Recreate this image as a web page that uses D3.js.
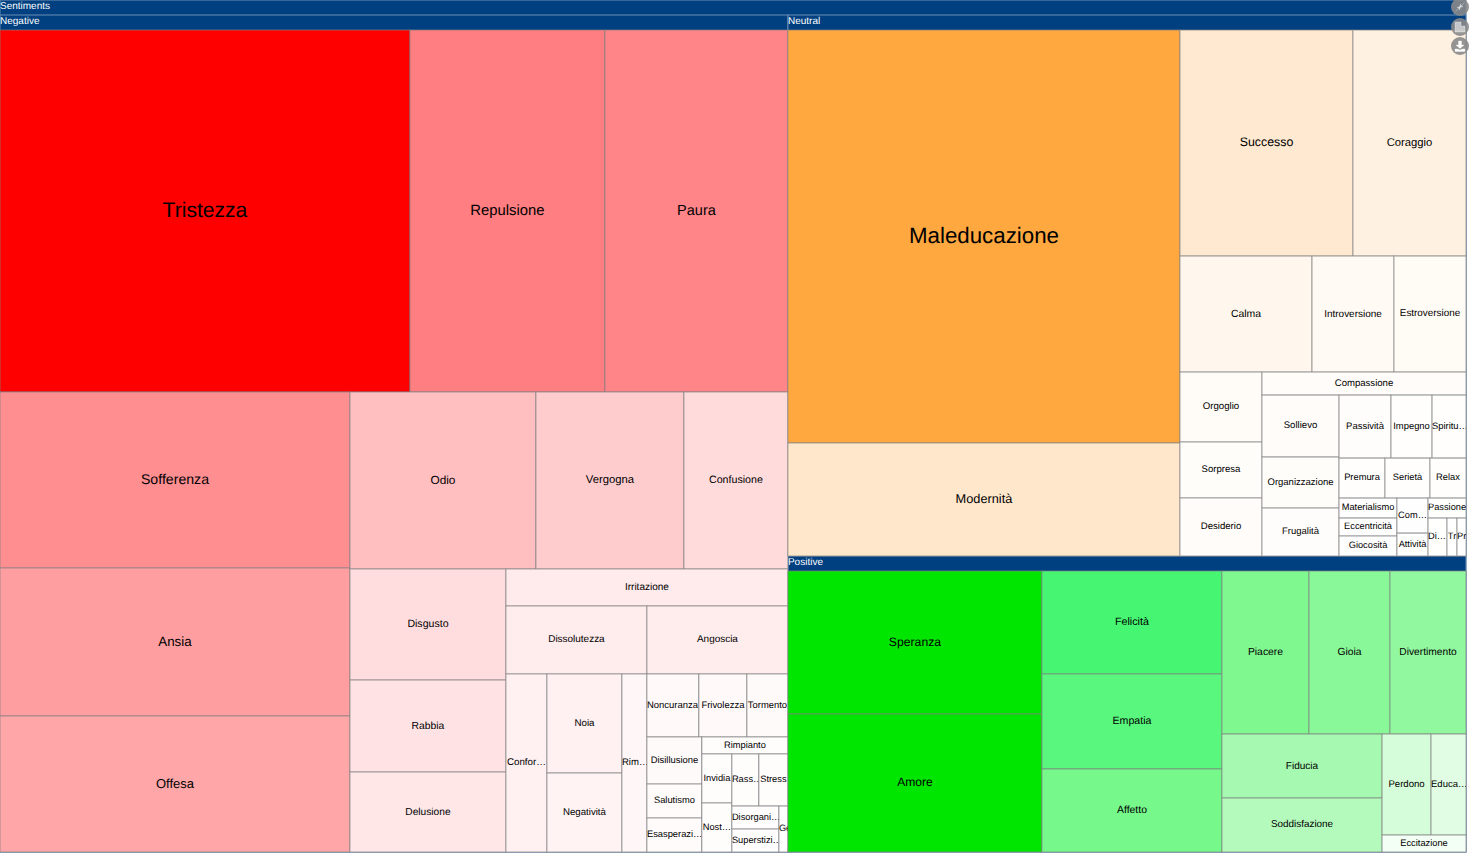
<!DOCTYPE html>
<html>
<head>
<meta charset="utf-8">
<script src="https://cdn.jsdelivr.net/npm/d3@7"></script>
<style>
  html, body { margin: 0; padding: 0; background: #fff; overflow: hidden; }
  svg { display: block; font-family: "Liberation Sans", Arial, sans-serif; text-rendering: geometricPrecision; }
</style>
</head>
<body>
<div id="chart"></div>
<script>
// leaf labels as they appear on the chart, and their estimated counts
var negativeNames = ["Tristezza", "Repulsione", "Paura", "Sofferenza", "Ansia", "Offesa", "Odio", "Vergogna", "Confusione",
  "Disgusto", "Rabbia", "Delusione", "Irritazione", "Dissolutezza", "Angoscia", "Confor…", "Noia", "Negatività", "Rim…",
  "Noncuranza", "Frivolezza", "Tormento", "Disillusione", "Salutismo", "Esasperazi…", "Rimpianto", "Invidia", "Nost…",
  "Rass…", "Stress", "Disorgani…", "Superstizi…", "Ge"];
var negativeValues = [15109, 7186, 6744, 6271, 5273, 4846, 3351, 2667, 1874,
  1763, 1461, 1270, 1062, 976, 976, 743, 756, 603, 453,
  333, 308, 263, 263, 190, 190, 149, 150, 150,
  143, 154, 110, 110, 42];

var neutralNames = ["Maleducazione", "Modernità", "Successo", "Coraggio", "Calma", "Introversione", "Estroversione",
  "Orgoglio", "Sorpresa", "Desiderio", "Compassione", "Sollievo", "Organizzazione", "Frugalità",
  "Passività", "Impegno", "Spiritu…", "Premura", "Serietà", "Relax",
  "Materialismo", "Eccentricità", "Giocosità", "Com…", "Attività", "Passione", "Di…", "Tr", "Pr."];
var neutralValues = [16651, 4556, 4021, 2627, 1575, 978, 859,
  590, 472, 489, 483, 491, 404, 380,
  337, 266, 220, 189, 185, 148,
  119, 107, 119, 112, 73, 78, 74, 39, 35];

var positiveNames = ["Speranza", "Amore", "Felicità", "Empatia", "Affetto", "Piacere", "Gioia", "Divertimento",
  "Fiducia", "Soddisfazione", "Perdono", "Educa…", "Eccitazione"];
var positiveValues = [3826, 3692, 1953, 1801, 1574, 1494, 1391, 1305, 1079, 910, 521, 372, 150];

// how each group is cut: "r" stacks its parts in rows, "c" puts them in columns
var negativeCuts = ["r",
  ["c", "Tristezza", "Repulsione", "Paura"],
  ["c",
    ["r", "Sofferenza", "Ansia", "Offesa"],
    ["r",
      ["c", "Odio", "Vergogna", "Confusione"],
      ["c",
        ["r", "Disgusto", "Rabbia", "Delusione"],
        ["r",
          "Irritazione",
          ["c", "Dissolutezza", "Angoscia"],
          ["c",
            "Confor…",
            ["r", "Noia", "Negatività"],
            "Rim…",
            ["r",
              ["c", "Noncuranza", "Frivolezza", "Tormento"],
              ["c",
                ["r", "Disillusione", "Salutismo", "Esasperazi…"],
                ["r",
                  "Rimpianto",
                  ["c",
                    ["r", "Invidia", "Nost…"],
                    ["r",
                      ["c", "Rass…", "Stress"],
                      ["c", ["r", "Disorgani…", "Superstizi…"], "Ge"]]]]]]]]]]]];

var neutralCuts = ["c",
  ["r", "Maleducazione", "Modernità"],
  ["r",
    ["c", "Successo", "Coraggio"],
    ["c", "Calma", "Introversione", "Estroversione"],
    ["c",
      ["r", "Orgoglio", "Sorpresa", "Desiderio"],
      ["r",
        "Compassione",
        ["c",
          ["r", "Sollievo", "Organizzazione", "Frugalità"],
          ["r",
            ["c", "Passività", "Impegno", "Spiritu…"],
            ["c", "Premura", "Serietà", "Relax"],
            ["c",
              ["r", "Materialismo", "Eccentricità", "Giocosità"],
              ["c",
                ["r", "Com…", "Attività"],
                ["r", "Passione", ["c", "Di…", "Tr", "Pr."]]]]]]]]]];

var positiveCuts = ["c",
  ["r", "Speranza", "Amore"],
  ["c",
    ["r", "Felicità", "Empatia", "Affetto"],
    ["r",
      ["c", "Piacere", "Gioia", "Divertimento"],
      ["c",
        ["r", "Fiducia", "Soddisfazione"],
        ["r", ["c", "Perdono", "Educa…"], "Eccitazione"]]]]];

var width = 1466, height = 852, headerHeight = 15;

var svg = d3.select("#chart").append("svg")
  .attr("width", 1471)
  .attr("height", 853);

// turn a cuts list into a node tree the hierarchy can read
function buildNode(cut, names, values, group) {
  if (typeof cut === "string") {
    return { name: cut, value: values[names.indexOf(cut)], group: group };
  }
  return {
    split: cut[0],
    children: cut.slice(1).map(function(c) { return buildNode(c, names, values, group); })
  };
}

function buildGroup(title, cuts, names, values) {
  var node = buildNode(cuts, names, values, title);
  node.title = title;
  return node;
}

var treeData = {
  title: "Sentiments",
  split: "c",
  children: [
    buildGroup("Negative", negativeCuts, negativeNames, negativeValues),
    {
      split: "r",
      children: [
        buildGroup("Neutral", neutralCuts, neutralNames, neutralValues),
        buildGroup("Positive", positiveCuts, positiveNames, positiveValues)
      ]
    }
  ]
};

var root = d3.hierarchy(treeData)
  .sum(function(d) { return d.children ? 0 : d.value; });

d3.treemap()
  .size([width, height])
  .paddingTop(function(d) { return d.data.title ? headerHeight : 0; })
  .tile(function(node, x0, y0, x1, y1) {
    if (node.data.split === "r") d3.treemapSlice(node, x0, y0, x1, y1);
    else d3.treemapDice(node, x0, y0, x1, y1);
  })(root);

// each group goes from white up to its own colour as the count grows
var colors = {
  Negative: d3.scaleLinear()
    .domain([0, 3351, 7186, 15109])
    .range(["#ffffff", "#ffbfc1", "#ff7e82", "#ff0000"]),
  Neutral: d3.scaleLinear().domain([0, d3.max(neutralValues)]).range(["#ffffff", "#ffa840"]),
  Positive: d3.scaleLinear()
    .domain([0, 521, 1079, 1494, 1953, 3692])
    .range(["#ffffff", "#d5fdd9", "#a5f9b0", "#80f890", "#46f673", "#00e600"])
    .clamp(true)
};

var allValues = negativeValues.concat(neutralValues, positiveValues);
var fontSize = d3.scaleLinear().domain([0, d3.max(allValues)]).range([9.2, 22.3]);

// headers
var headers = root.descendants().filter(function(d) { return d.data.title; });

svg.selectAll("rect.header")
  .data(headers)
  .enter()
  .append("rect")
  .attr("class", "header")
  .attr("x", function(d) { return d.x0; })
  .attr("y", function(d) { return d.y0; })
  .attr("width", function(d) { return d.x1 - d.x0; })
  .attr("height", function(d) { return d.y1 - d.y0; })
  .attr("fill", "#003f80")
  .attr("stroke", "#6d8fb3")
  .attr("stroke-width", 1);

svg.selectAll("text.header")
  .data(headers)
  .enter()
  .append("text")
  .attr("class", "header")
  .attr("x", function(d) { return d.x0; })
  .attr("y", function(d) { return d.y0 + 9; })
  .attr("font-size", 10)
  .attr("fill", "#fff")
  .text(function(d) { return d.data.title; });

// leaves
var leaves = root.leaves();

var cells = svg.selectAll("g.cell")
  .data(leaves)
  .enter()
  .append("g")
  .attr("class", "cell");

cells.append("clipPath")
  .attr("id", function(d, i) { return "clip" + i; })
  .append("rect")
  .attr("x", function(d) { return d.x0; })
  .attr("y", function(d) { return d.y0; })
  .attr("width", function(d) { return d.x1 - d.x0; })
  .attr("height", function(d) { return d.y1 - d.y0; });

cells.append("rect")
  .attr("x", function(d) { return d.x0; })
  .attr("y", function(d) { return d.y0; })
  .attr("width", function(d) { return d.x1 - d.x0; })
  .attr("height", function(d) { return d.y1 - d.y0; })
  .attr("fill", function(d) { return colors[d.data.group](d.data.value); })
  .attr("stroke", "#808080")
  .attr("stroke-opacity", 0.7)
  .attr("stroke-width", 1);

cells.append("text")
  .attr("clip-path", function(d, i) { return "url(#clip" + i + ")"; })
  .attr("x", function(d) { return (d.x0 + d.x1) / 2; })
  .attr("y", function(d) { return (d.y0 + d.y1) / 2 - 1; })
  .attr("dy", "0.35em")
  .attr("text-anchor", "middle")
  .attr("font-size", function(d) { return fontSize(d.data.value); })
  .attr("fill", "#000")
  .text(function(d) { return d.data.name; })
  .each(function(d) {
    // labels wider than their cell sit against the left edge
    if (this.getComputedTextLength() > d.x1 - d.x0 - 1) {
      d3.select(this).attr("x", d.x0).attr("text-anchor", "start");
    }
  });

// the three round buttons at the top right
var buttonY = [7, 27, 46];
var icons = [
  "M-4.5,4.5 L-1,1 L-3,0.5 L0.5,-0.5 L-0.5,3 L-1,1 M4.5,-4.5 L1,-1 L3,-0.5 L-0.5,0.5 L0.5,-3 L1,-1",
  "M-5,-5 L1,-5 L1,-1 L5,-1 L5,5 L-5,5 Z",
  "M-1.5,-5 L1.5,-5 L1.5,-1 L4,-1 L0,2.5 L-4,-1 L-1.5,-1 Z M-5,3 L-2.5,3 L0,4 L2.5,3 L5,3 L5,5.5 L-5,5.5 Z"
];

var buttons = svg.selectAll("g.button")
  .data(buttonY)
  .enter()
  .append("g")
  .attr("class", "button")
  .attr("transform", function(d) { return "translate(1460," + d + ")"; });

buttons.append("circle")
  .attr("r", 9)
  .attr("fill", "#8a8a8a")
  .attr("fill-opacity", 0.9);

buttons.append("path")
  .attr("d", function(d, i) { return icons[i]; })
  .attr("fill", "#fff")
  .attr("fill-opacity", function(d, i) { return i === 2 ? 1 : 0.55; })
  .attr("stroke", "#fff")
  .attr("stroke-width", 0.5)
  .attr("stroke-opacity", 0.6);
</script>
</body>
</html>
